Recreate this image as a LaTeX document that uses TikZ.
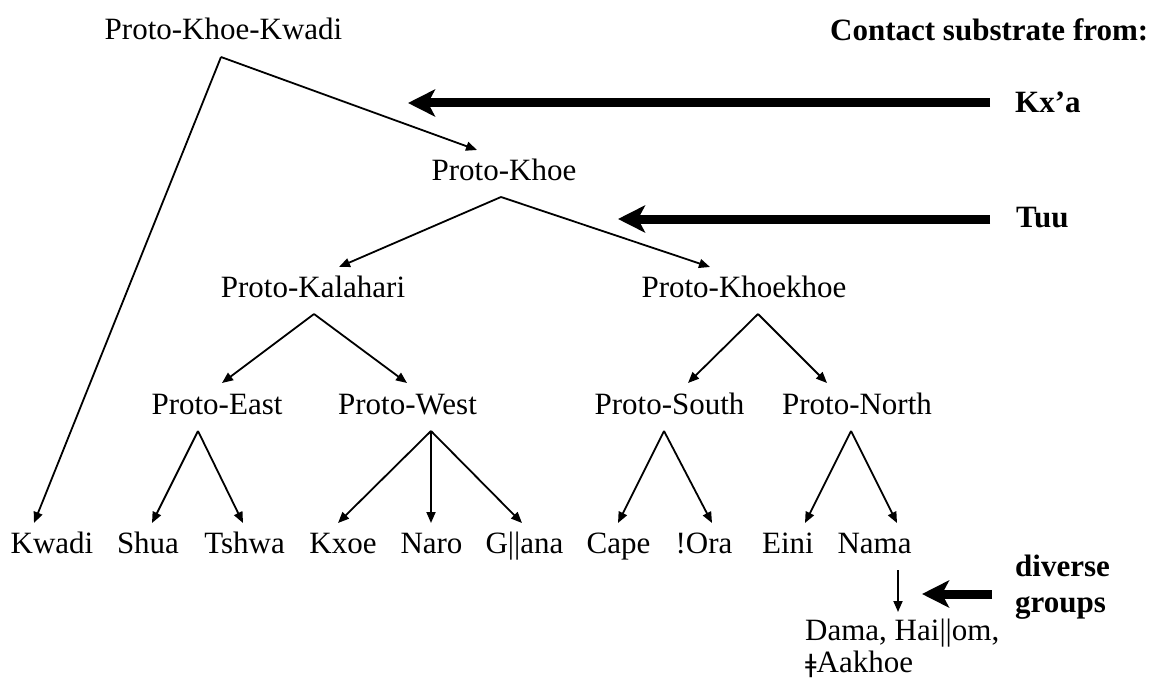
\documentclass[tikz,border=0pt]{standalone}
\usepackage{fontspec}
\setmainfont{Liberation Serif}
\newfontfamily\clickfont{DejaVu Sans}
\usetikzlibrary{arrows.meta}
\begin{document}
\begin{tikzpicture}[x=1pt,y=-1pt,
  lbl/.style={inner sep=0pt, font=\fontsize{31}{35.5}\selectfont},
  blbl/.style={inner sep=0pt, font=\fontsize{31}{35.5}\selectfont\bfseries},
  branch/.style={line width=1.8pt, -{Triangle[length=11pt,width=9pt]}},
  bigarrow/.style={line width=9pt, -{Stealth[length=27pt,width=27pt,inset=7pt]}}]
\useasboundingbox (0,0) rectangle (1150,682);

% labels
\node[lbl, anchor=base] (pkk) at (223.5,40) {Proto-Khoe-Kwadi};
\node[blbl, anchor=base west] (csf) at (830,41) {Contact substrate from:};
\node[blbl, anchor=base west] (kxa) at (1015,113) {Kx’a};
\node[blbl, anchor=base west] (tuu) at (1016,227) {Tuu};
\node[lbl, anchor=base] (pk) at (504,180) {Proto-Khoe};
\node[lbl, anchor=base] (pkal) at (313,297) {Proto-Kalahari};
\node[lbl, anchor=base] (pkkh) at (744,297) {Proto-Khoekhoe};
\node[lbl, anchor=base] (pe) at (217,414) {Proto-East};
\node[lbl, anchor=base] (pw) at (407.5,414) {Proto-West};
\node[lbl, anchor=base] (ps) at (669.5,414) {Proto-South};
\node[lbl, anchor=base] (pn) at (857,414) {Proto-North};
\node[lbl, anchor=base] (kwadi) at (52,553) {Kwadi};
\node[lbl, anchor=base] (shua) at (148,553) {Shua};
\node[lbl, anchor=base] (tshwa) at (244.5,553) {Tshwa};
\node[lbl, anchor=base] (kxoe) at (343,553) {Kxoe};
\node[lbl, anchor=base] (naro) at (431.5,553) {Naro};
\node[lbl, anchor=base] (gana) at (524.5,553) {G||ana};
\node[lbl, anchor=base] (cape) at (618.5,553) {Cape};
\node[lbl, anchor=base] (ora) at (704,553) {!Ora};
\node[lbl, anchor=base] (eini) at (788,553) {Eini};
\node[lbl, anchor=base] (nama) at (874.5,553) {Nama};
\node[lbl, anchor=base west, align=left, font=\fontsize{31}{32}\selectfont] (dama) at (805,672) {Dama, Hai||om,\\{\clickfont\fontsize{25}{32}\selectfont ǂ}Aakhoe};
\node[blbl, anchor=base west, align=left] (div) at (1015,612) {diverse\\groups};

% branch points and arrow ends
\coordinate (pkk-o) at (221,57);
\coordinate (pk-o) at (501,197);
\coordinate (pkal-o) at (314,314);
\coordinate (pkkh-o) at (758,314);
\coordinate (pe-o) at (198,431);
\coordinate (pw-o) at (431,431);
\coordinate (ps-o) at (664,431);
\coordinate (pn-o) at (851,431);
\coordinate (nama-o) at (898,570);

\coordinate (kwadi-i) at (34,523);
\coordinate (pk-i) at (477,150);
\coordinate (pkal-i) at (339,267);
\coordinate (pkkh-i) at (710,267);
\coordinate (pe-i) at (222,383);
\coordinate (pw-i) at (407,383);
\coordinate (ps-i) at (688,383);
\coordinate (pn-i) at (827,383);
\coordinate (shua-i) at (152,523);
\coordinate (tshwa-i) at (243,523);
\coordinate (kxoe-i) at (338,523);
\coordinate (naro-i) at (431,523);
\coordinate (gana-i) at (522,523);
\coordinate (cape-i) at (618,523);
\coordinate (ora-i) at (712,523);
\coordinate (eini-i) at (805,523);
\coordinate (nama-i) at (897,523);
\coordinate (dama-i) at (898,612);

\coordinate (kxa-s) at (990,103);
\coordinate (kxa-e) at (408,103);
\coordinate (tuu-s) at (990,219);
\coordinate (tuu-e) at (618,219);
\coordinate (div-s) at (992,594);
\coordinate (div-e) at (922,594);

% tree
\draw[branch] (pkk-o) -- (kwadi-i);
\draw[branch] (pkk-o) -- (pk-i);
\draw[branch] (pk-o) -- (pkal-i);
\draw[branch] (pk-o) -- (pkkh-i);
\draw[branch] (pkal-o) -- (pe-i);
\draw[branch] (pkal-o) -- (pw-i);
\draw[branch] (pkkh-o) -- (ps-i);
\draw[branch] (pkkh-o) -- (pn-i);
\draw[branch] (pe-o) -- (shua-i);
\draw[branch] (pe-o) -- (tshwa-i);
\draw[branch] (pw-o) -- (kxoe-i);
\draw[branch] (pw-o) -- (naro-i);
\draw[branch] (pw-o) -- (gana-i);
\draw[branch] (ps-o) -- (cape-i);
\draw[branch] (ps-o) -- (ora-i);
\draw[branch] (pn-o) -- (eini-i);
\draw[branch] (pn-o) -- (nama-i);
\draw[branch] (nama-o) -- (dama-i);

% contact arrows
\draw[bigarrow] (kxa-s) -- (kxa-e);
\draw[bigarrow] (tuu-s) -- (tuu-e);
\draw[bigarrow] (div-s) -- (div-e);
\end{tikzpicture}
\end{document}
